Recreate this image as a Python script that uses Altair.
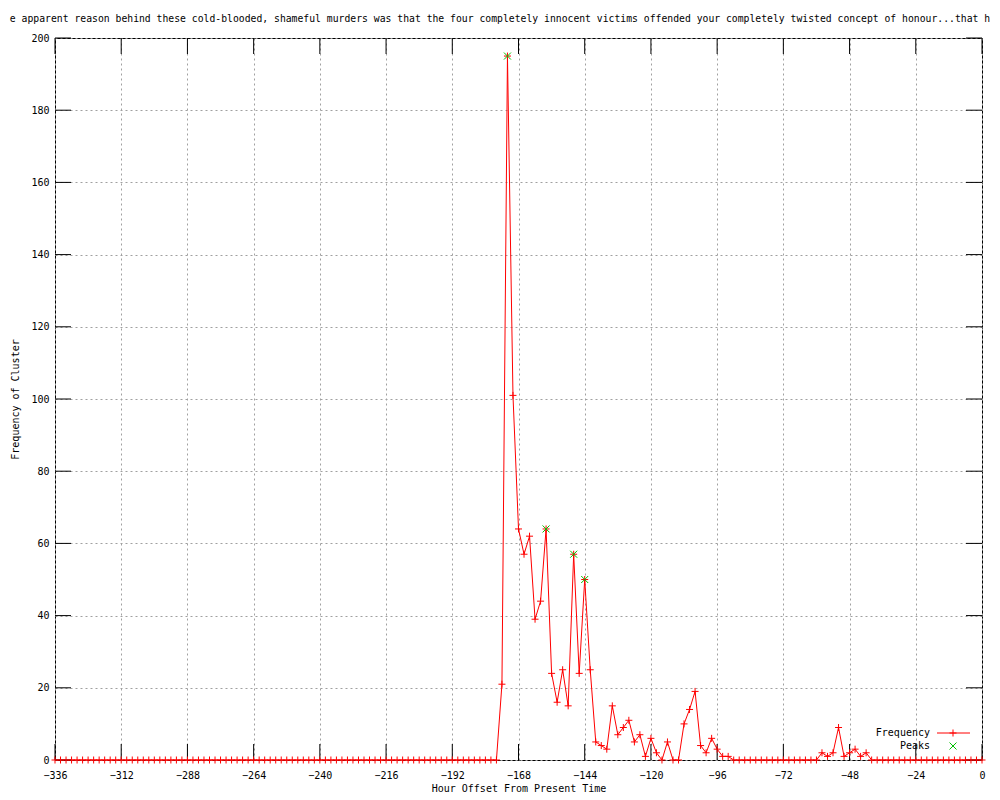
import altair as alt
import pandas as pd

# ---- data ----
hours = list(range(-336, 1, 2))
frequency = (
    [0] * 81
    + [21, 195, 101, 64, 57, 62, 39, 44, 64, 24,
       16, 25, 15, 57, 24, 50, 25, 5, 4, 3,
       15, 7, 9, 11, 5, 7, 1, 6, 2, 0,
       5, 0, 0, 10, 14, 19, 4, 2, 6, 3,
       1, 1]
    + [0] * 16
    + [2, 1, 2, 9, 1, 2, 3, 1, 2]
    + [0] * 21
)
peak_hours = [-172, -158, -148, -144]
peak_values = [195, 64, 57, 50]

x_ticks = [-336, -312, -288, -264, -240, -216, -192, -168, -144, -120, -96, -72, -48, -24, 0]
y_ticks = [0, 20, 40, 60, 80, 100, 120, 140, 160, 180, 200]

title_text = ("e apparent reason behind these cold-blooded, shameful murders was that the four "
              "completely innocent victims offended your completely twisted concept of honour...that h")
x_title = "Hour Offset From Present Time"
y_title = "Frequency of Cluster"
legend_labels = ["Frequency", "Peaks"]

FONT = "DejaVu Sans Mono"
W, H = 927, 722
TICK = 16
PLUS = "M-1,0L1,0M0,-1L0,1"
XSHAPE = "M-1,-1L1,1M-1,1L1,-1"
RED = "#ff0000"
GREEN = "#00c000"

df = pd.DataFrame({"hour": hours, "freq": frequency})
peaks = pd.DataFrame({"hour": peak_hours, "freq": peak_values})
xt = pd.DataFrame({"hour": x_ticks})
yt = pd.DataFrame({"freq": y_ticks})

xscale = alt.Scale(domain=[-336, 0], nice=False, zero=False)
yscale = alt.Scale(domain=[0, 200], nice=False)

x_axis = alt.Axis(values=x_ticks, title=x_title, grid=True, gridColor="#a0a0a0",
                  gridDash=[2, 3], gridWidth=1, ticks=False, tickSize=0, domain=False,
                  labelFont=FONT, labelFontSize=10, labelColor="black", labelPadding=18,
                  labelBaseline="alphabetic", labelFlush=False, labelOverlap=False,
                  titleFont=FONT, titleFontSize=10, titleFontWeight="normal",
                  titleColor="black", titleY=31, titleBaseline="alphabetic")
y_axis = alt.Axis(values=y_ticks, title=y_title, grid=True, gridColor="#a0a0a0",
                  gridDash=[2, 3], gridWidth=1, ticks=False, tickSize=0, domain=False,
                  labelFont=FONT, labelFontSize=10, labelColor="black", labelPadding=6,
                  labelBaseline="middle", labelFlush=False, labelOverlap=False,
                  titleFont=FONT, titleFontSize=10, titleFontWeight="normal",
                  titleColor="black", titleX=-37, titleY=H / 2, titleAngle=270,
                  titleAlign="center", titleBaseline="alphabetic")

X = alt.X("hour:Q", scale=xscale, axis=x_axis)
Y = alt.Y("freq:Q", scale=yscale, axis=y_axis)

line = alt.Chart(df).mark_line(color=RED, strokeWidth=1).encode(x=X, y=Y)
pts = alt.Chart(df).mark_point(shape=PLUS, size=49, filled=False, color=RED,
                               strokeWidth=1, opacity=1).encode(x=X, y=Y)
pk = alt.Chart(peaks).mark_point(shape=XSHAPE, size=49, filled=False, color=GREEN,
                                 strokeWidth=1, opacity=1).encode(x=X, y=Y)

tick_top = alt.Chart(xt).mark_rule(color="black", strokeWidth=1).encode(
    x=X, y=alt.value(0), y2=alt.value(TICK))
tick_bot = alt.Chart(xt).mark_rule(color="black", strokeWidth=1).encode(
    x=X, y=alt.value(H - TICK), y2=alt.value(H))
tick_left = alt.Chart(yt).mark_rule(color="black", strokeWidth=1).encode(
    y=Y, x=alt.value(0), x2=alt.value(TICK))
tick_right = alt.Chart(yt).mark_rule(color="black", strokeWidth=1).encode(
    y=Y, x=alt.value(W - TICK), x2=alt.value(W))

# legend (gnuplot style key, bottom right)
leg_df1 = pd.DataFrame({"label": [legend_labels[0]]})
leg_df2 = pd.DataFrame({"label": [legend_labels[1]]})
leg_text1 = alt.Chart(leg_df1).mark_text(font=FONT, fontSize=10, align="right",
                                         baseline="middle", color="black").encode(
    text="label:N", x=alt.value(875), y=alt.value(695))
leg_text2 = alt.Chart(leg_df2).mark_text(font=FONT, fontSize=10, align="right",
                                         baseline="middle", color="black").encode(
    text="label:N", x=alt.value(875), y=alt.value(708))
leg_line = alt.Chart(leg_df1).mark_rule(color=RED, strokeWidth=1).encode(
    x=alt.value(882), x2=alt.value(915), y=alt.value(695))
leg_plus = alt.Chart(leg_df1).mark_point(shape=PLUS, size=49, filled=False, color=RED,
                                         strokeWidth=1, opacity=1).encode(
    x=alt.value(898), y=alt.value(695))
leg_x = alt.Chart(leg_df2).mark_point(shape=XSHAPE, size=49, filled=False, color=GREEN,
                                      strokeWidth=1, opacity=1).encode(
    x=alt.value(898), y=alt.value(708))

title = alt.Chart(pd.DataFrame({"t": [title_text]})).mark_text(
    font=FONT, fontSize=9.75, align="center", baseline="alphabetic", color="black").encode(
    text="t:N", x=alt.value(445), y=alt.value(-16))

chart = alt.layer(
    line, tick_top, tick_bot, tick_left, tick_right, pts, pk,
    leg_text1, leg_text2, leg_line, leg_plus, leg_x, title
).properties(
    width=W, height=H,
    padding={"left": 47, "top": 30, "right": 10, "bottom": 32},
    autosize=alt.AutoSizeParams(type="none"),
    background="white",
).configure_view(stroke="black", strokeWidth=1)

chart.save("out.html", embed_options={"renderer": "svg", "actions": False})
